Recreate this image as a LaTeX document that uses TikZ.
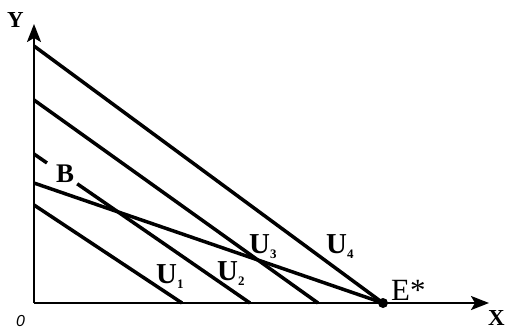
\documentclass[tikz,border=0pt]{standalone}
\usepackage{fontspec}
\setmainfont{Liberation Serif}
\usetikzlibrary{arrows.meta,calc}
\newcommand{\subn}[1]{\raisebox{-5bp}{\fontsize{13}{13}\selectfont #1}}
\begin{document}
\begin{tikzpicture}[x=1bp,y=-1bp,
  curve/.style={line width=3.5bp},
  axis/.style={line width=2.3bp,-{Stealth[length=18bp,width=14bp,inset=4bp]}},
  lbl/.style={font=\bfseries\fontsize{29}{29}\selectfont,inner sep=0pt,anchor=base west},
  small/.style={font=\bfseries\fontsize{23}{23}\selectfont,inner sep=0pt,anchor=base west}]
\useasboundingbox (0,0) rectangle (511,330);
% axes
\coordinate (O) at (34,303);
\coordinate (Ytop) at (34,24);
\coordinate (Xend) at (489,303);
\draw[axis] (O) -- (Ytop);
\draw[axis] (O) -- (Xend);
\node[small] (Ylab) at (7,27) {Y};
\node[small] (Xlab) at (488,325) {X};
\node[inner sep=0pt,anchor=base west,font=\fontspec{Liberation Sans}\itshape\fontsize{16}{16}\selectfont] (Olab) at (16,326) {0};
% equilibrium point
\coordinate (E) at (383,303);
% indifference lines
\coordinate (u4a) at (34,46);
\coordinate (u3a) at (34,100);
\coordinate (u3b) at (318,303);
\coordinate (u2a) at (34,154);
\coordinate (u2b) at (250,303);
\coordinate (u1a) at (34,205);
\coordinate (u1b) at (182,303);
\coordinate (ba) at (34,183);
\draw[curve] (u4a) -- (E);
\draw[curve] (u3a) -- (u3b);
\draw[curve] (u2a) -- ($(u2a)!0.06!(u2b)$);
\draw[curve] ($(u2a)!0.2!(u2b)$) -- (u2b);
\draw[curve] (u1a) -- (u1b);
\draw[curve] (ba) -- (E);
\fill (E) circle (5bp);
% labels
\node[lbl,font=\bfseries\fontsize{27}{27}\selectfont] (Blab) at (56,182) {B};
\node[lbl] (U1) at (156,283) {U\subn{1}};
\node[lbl] (U2) at (217,280) {U\subn{2}};
\node[lbl] (U3) at (249,253) {U\subn{3}};
\node[lbl] (U4) at (326,253) {U\subn{4}};
\node[inner sep=0pt,anchor=base west,font=\fontsize{31}{31}\selectfont] (Elab) at (391,300) {E*};
\end{tikzpicture}
\end{document}
